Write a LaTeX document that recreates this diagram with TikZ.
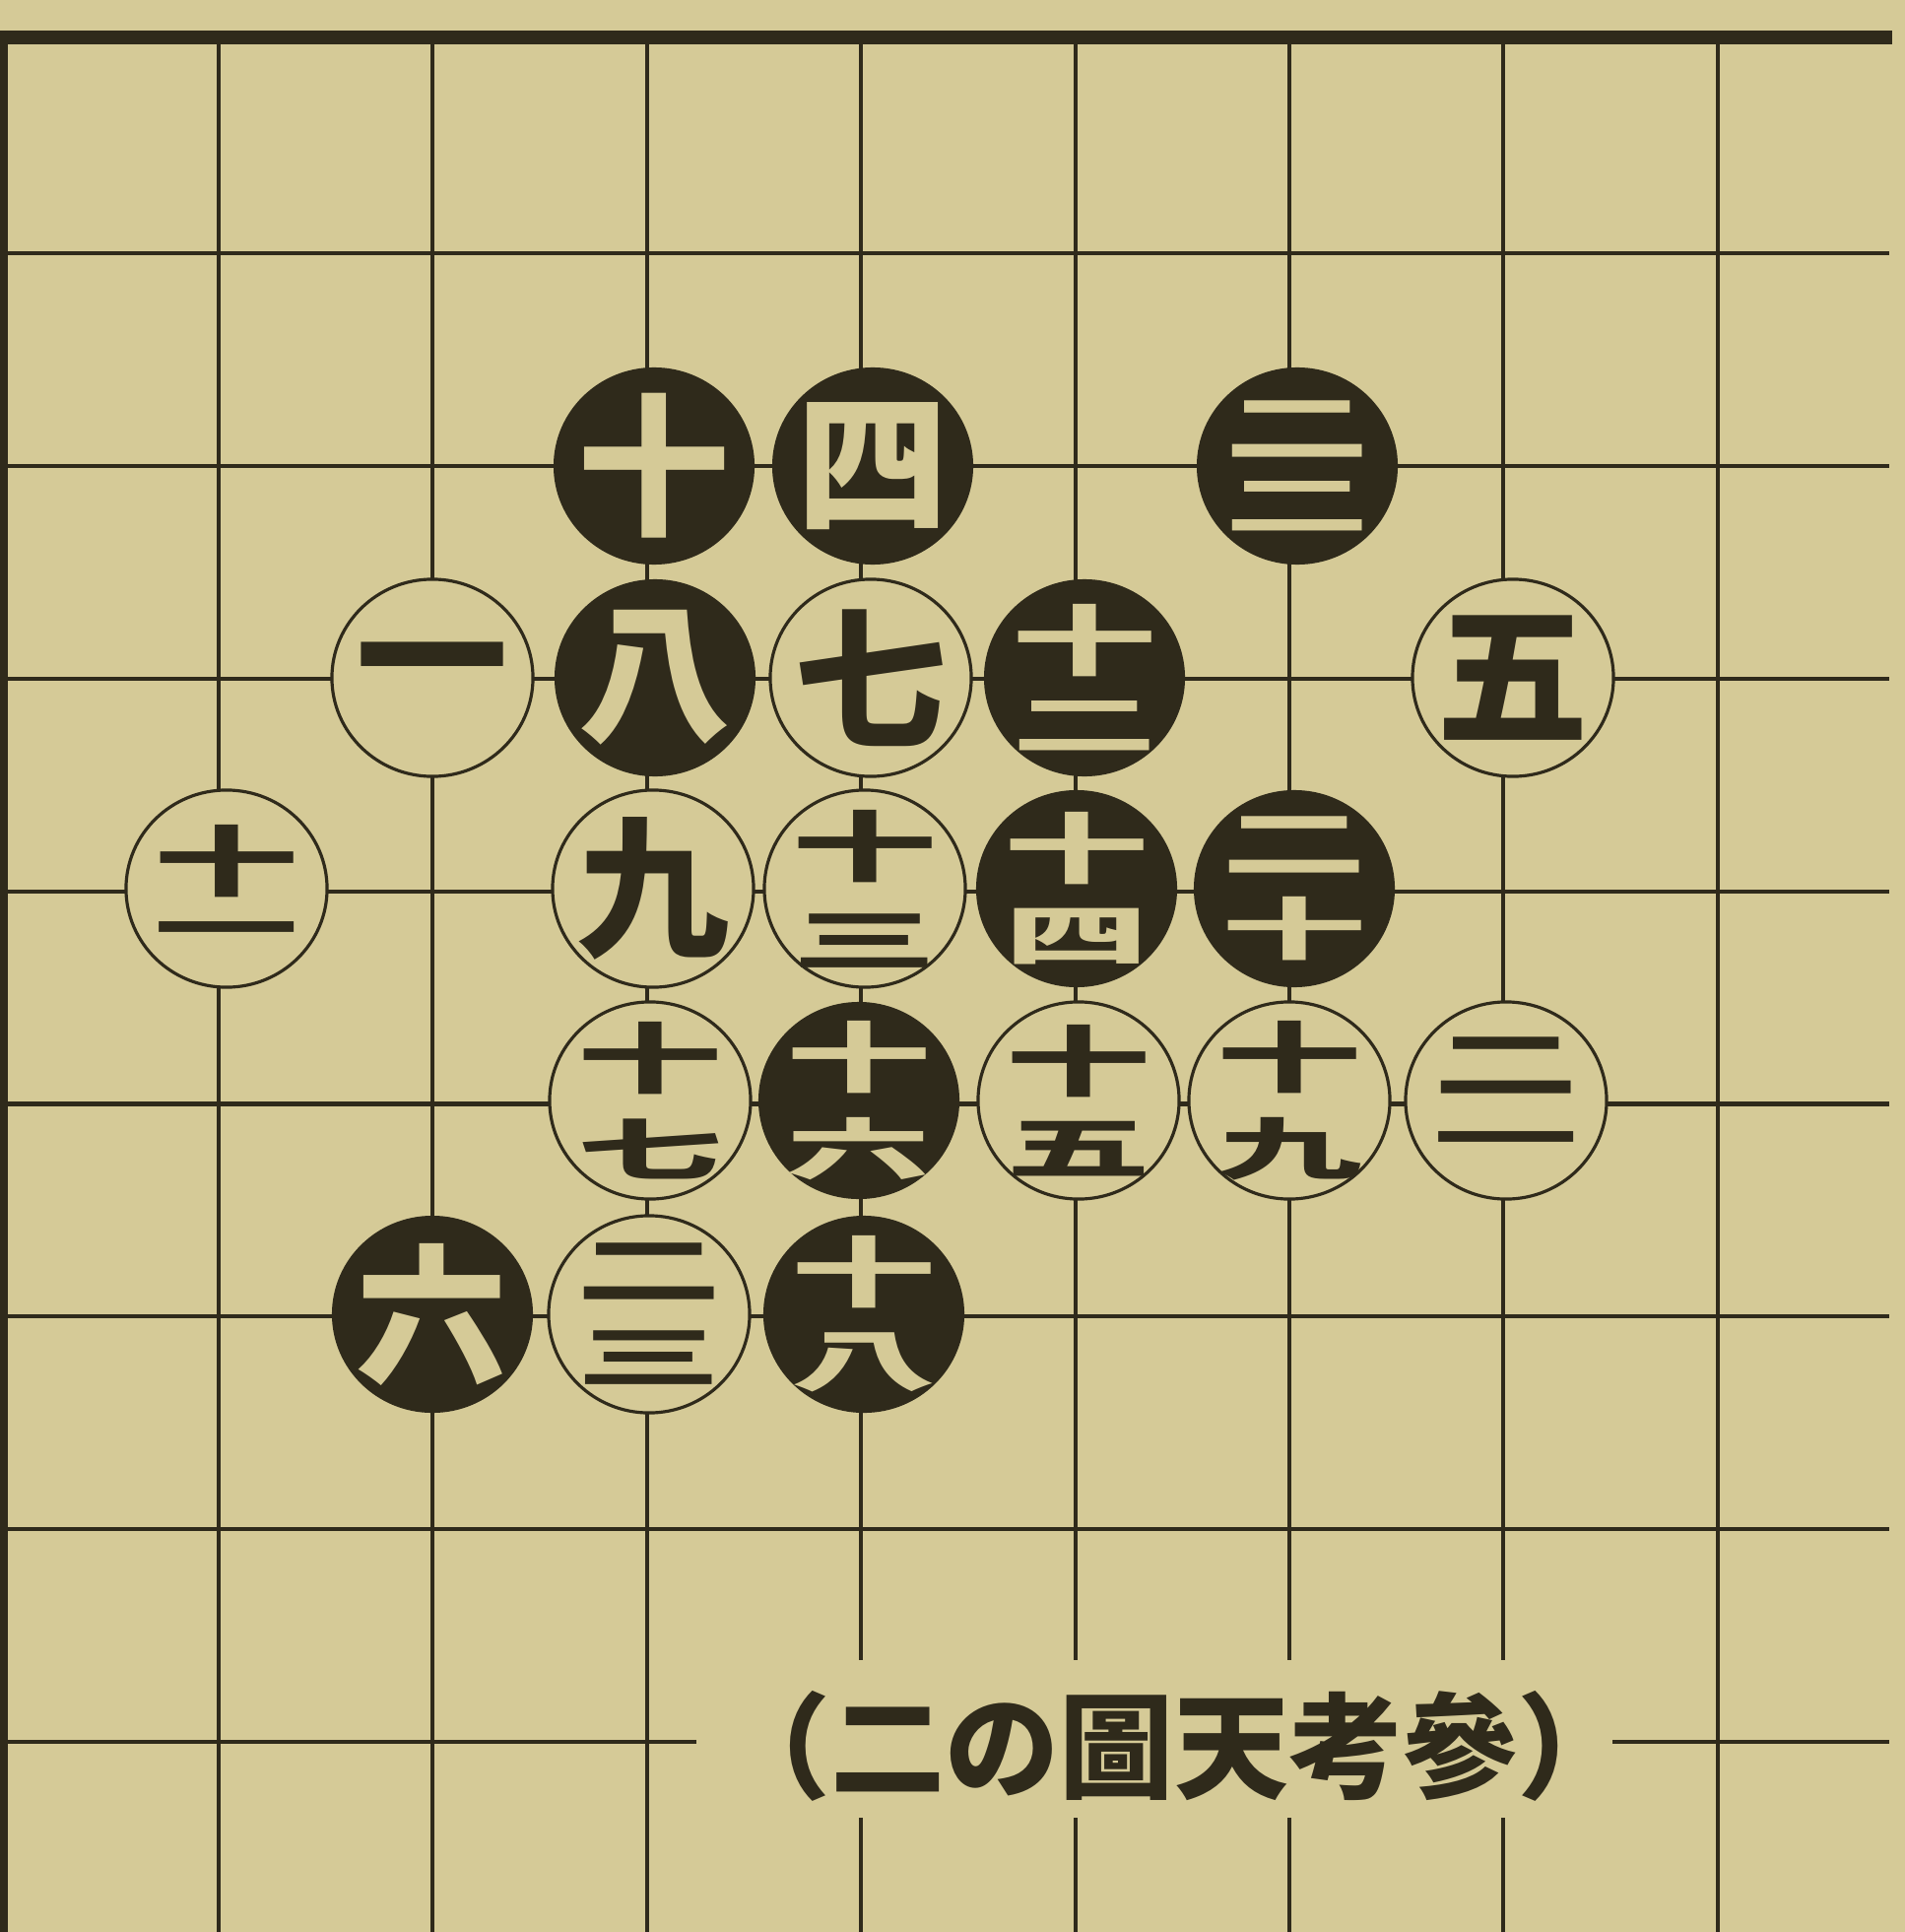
\documentclass[tikz,border=0pt]{standalone}
\usepackage{fontspec}
\usepackage{graphicx}
\usetikzlibrary{shapes.geometric}
\newfontfamily\cjk{Noto Sans CJK JP}
\definecolor{paper}{HTML}{D5CA97}
\definecolor{ink}{HTML}{2F2A1B}
\newcommand\ctr[1]{\makebox[0pt]{\raisebox{\dimexpr-.5\height+.5\depth\relax}[0pt][0pt]{#1}}}
\newcommand\stk[3][7pt]{\ctr{\vbox{\offinterlineskip\halign{\hfil##\hfil\cr
  \scalebox{0.95}[0.5]{#2}\cr\noalign{\kern #1}
  \scalebox{0.95}[0.44]{#3}\cr}}}}
\newcommand\sgl[1]{\ctr{#1}}
\begin{document}
\begin{tikzpicture}[x=0.01cm,y=-0.01cm,
  gridline/.style={draw=ink, line width=1.15pt},
  stonebase/.style={ellipse, minimum width=2.04cm, minimum height=2.0cm, inner sep=0pt,
    font=\cjk\bfseries\fontsize{44}{44}\selectfont},
  bst/.style={stonebase, fill=ink, text=paper},
  wst/.style={stonebase, draw=ink, line width=0.9pt, fill=paper, text=ink},
  captionstyle/.style={inner sep=0pt, text=ink, font=\cjk\bfseries\fontsize{33}{33}\selectfont}]
\useasboundingbox (0,0) rectangle (1934,1961);
\fill[paper] (0,0) rectangle (1934,1961);
% grid
\foreach \i in {1,...,8} {
  \draw[gridline] ({222+217.4*(\i-1)},38) -- ({222+217.4*(\i-1)},1961);
}
\foreach \j in {1,...,8} {
  \draw[gridline] (4,{41+215.9*\j}) -- (1918,{41+215.9*\j});
}
% borders
\fill[ink] (0,31) rectangle (1921,45);
\fill[ink] (0,31) rectangle (8,1961);
% caption gap
\fill[paper] (707,1685) rectangle (1637,1845);
\node[captionstyle] (caption) at (1192,1772) {（二の圖天考參）};
% black stones
\node[bst] (s10) at (664,473) {\sgl{十}};
\node[bst] (s4) at (886,473) {\sgl{四}};
\node[bst] (s22) at (1317,473) {\stk{二}{二}};
\node[bst] (s8) at (665,688) {\sgl{八}};
\node[bst] (s12) at (1101,688) {\stk{十}{二}};
\node[bst] (s14) at (1093,902) {\stk{十}{四}};
\node[bst] (s20) at (1314,902) {\stk{二}{十}};
\node[bst] (s16) at (872,1117) {\stk{十}{六}};
\node[bst] (s6) at (439,1334) {\sgl{六}};
\node[bst] (s18) at (877,1334) {\stk{十}{八}};
% white stones
\node[wst] (s1) at (439,688) {\sgl{一}};
\node[wst] (s7) at (884,688) {\sgl{七}};
\node[wst] (s5) at (1536,688) {\sgl{五}};
\node[wst] (s11) at (230,902) {\stk{十}{一}};
\node[wst] (s9) at (663,902) {\sgl{九}};
\node[wst] (s13) at (878,902) {\stk[9pt]{十}{三}};
\node[wst] (s17) at (660,1117) {\stk{十}{七}};
\node[wst] (s15) at (1095,1117) {\stk{十}{五}};
\node[wst] (s19) at (1309,1117) {\stk{十}{九}};
\node[wst] (s21) at (1529,1117) {\stk[11pt]{二}{一}};
\node[wst] (s23) at (659,1334) {\stk[9pt]{二}{三}};
\end{tikzpicture}
\end{document}
